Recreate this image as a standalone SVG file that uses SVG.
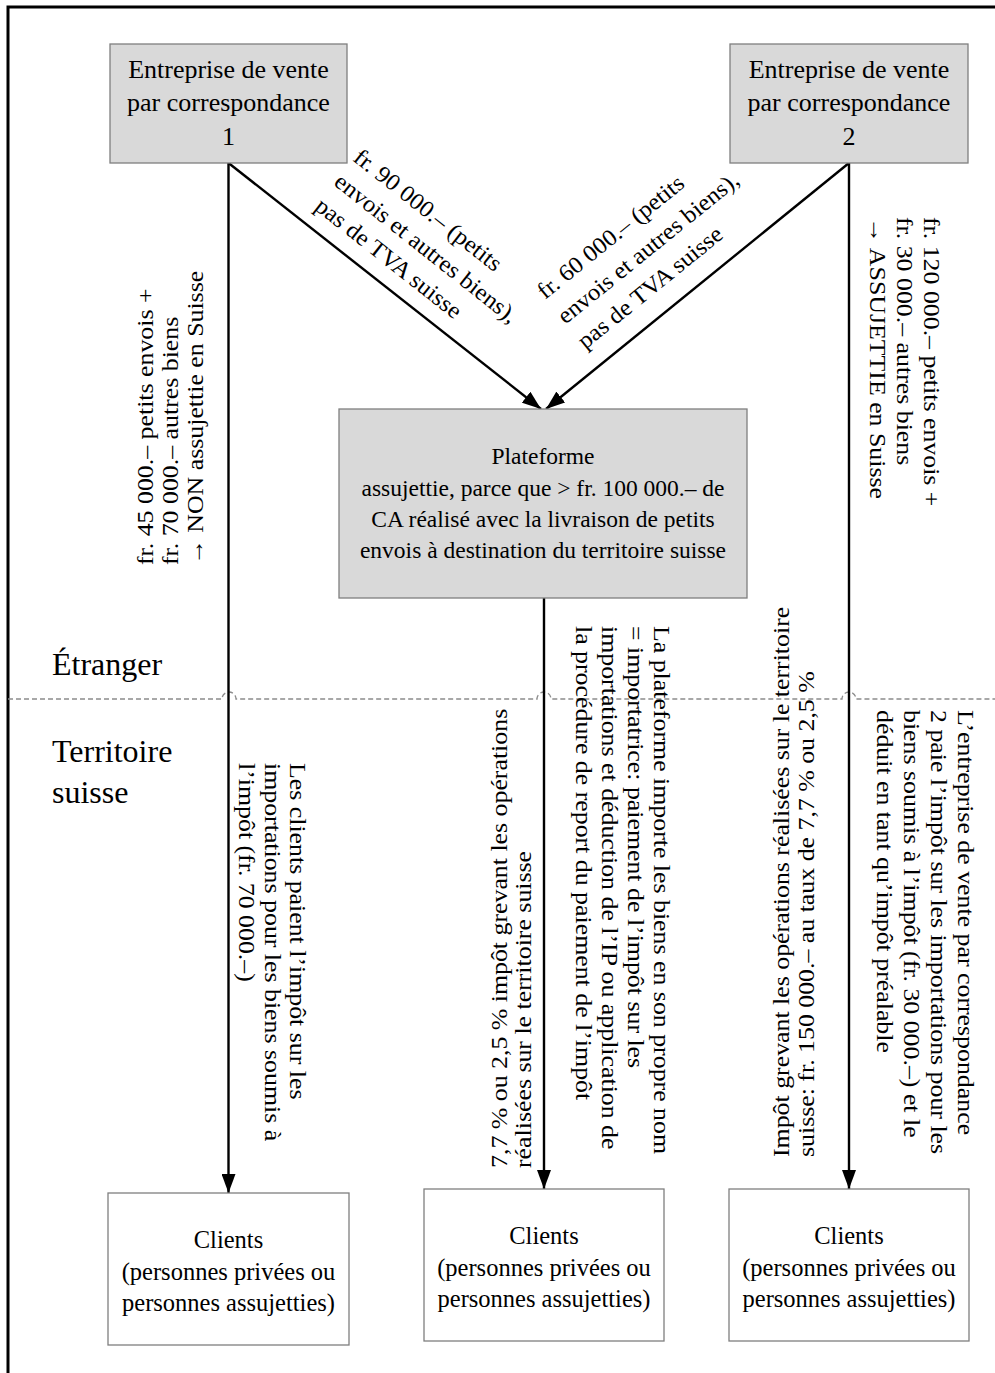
<svg xmlns="http://www.w3.org/2000/svg" width="995" height="1373" viewBox="0 0 995 1373">
<defs>
<style>
.t{font-family:"Liberation Serif","Times New Roman",serif;fill:#000}
.box{fill:#d9d9d9;stroke:#7f7f7f;stroke-width:1.3}
.wbox{fill:#fff;stroke:#7f7f7f;stroke-width:1.3}
.ln{stroke:#000;stroke-width:2.4;fill:none}
.v{font-size:23.5px}
.d{font-size:23.5px}
</style>
<marker id="ah" markerUnits="userSpaceOnUse" markerWidth="19" markerHeight="14" refX="19" refY="7" orient="auto">
<path d="M0,0 L19,7 L0,14 z" fill="#000"/>
</marker>
</defs>
<rect width="995" height="1373" fill="#fff"/>
<path d="M8,1373 V7 H995" fill="none" stroke="#000" stroke-width="3"/>

<g id="zones">
<path d="M8,699 H222 A7,7 0 0 1 236,699 H537 A7,7 0 0 1 551,699 H842 A7,7 0 0 1 856,699 H995" fill="none" stroke="#8c8c8c" stroke-width="1.3" stroke-dasharray="5,3"/>
<text class="t" x="52" y="675" font-size="32">Étranger</text>
<text class="t" x="52" y="762" font-size="32">Territoire</text>
<text class="t" x="52" y="803" font-size="32">suisse</text>
</g>

<g id="connectors">
<line class="ln" x1="228.5" y1="163" x2="228.5" y2="1193" marker-end="url(#ah)"/>
<line class="ln" x1="228.5" y1="163" x2="541" y2="409" marker-end="url(#ah)"/>
<line class="ln" x1="849" y1="163" x2="546" y2="409" marker-end="url(#ah)"/>
<line class="ln" x1="849" y1="163" x2="849" y2="1189" marker-end="url(#ah)"/>
<line class="ln" x1="544" y1="598" x2="544" y2="1189" marker-end="url(#ah)"/>
</g>

<g id="node-vpc1">
<rect class="box" x="110" y="44" width="237" height="119"/>
<text class="t" font-size="26" text-anchor="middle"><tspan x="228.5" y="78">Entreprise de vente</tspan><tspan x="228.5" y="111">par correspondance</tspan><tspan x="228.5" y="145">1</tspan></text>
</g>

<g id="node-vpc2">
<rect class="box" x="730" y="44" width="238" height="119"/>
<text class="t" font-size="26" text-anchor="middle"><tspan x="849" y="78">Entreprise de vente</tspan><tspan x="849" y="111">par correspondance</tspan><tspan x="849" y="145">2</tspan></text>
</g>

<g id="node-plateforme">
<rect class="box" x="339" y="409" width="408" height="189"/>
<text class="t" font-size="23.5" text-anchor="middle"><tspan x="543" y="464">Plateforme</tspan><tspan x="543" y="496">assujettie, parce que &gt; fr. 100 000.– de</tspan><tspan x="543" y="527">CA réalisé avec la livraison de petits</tspan><tspan x="543" y="558">envois à destination du territoire suisse</tspan></text>
</g>

<g id="node-clients1">
<rect class="wbox" x="108" y="1193" width="241" height="152"/>
<text class="t" font-size="24.5" text-anchor="middle"><tspan x="228.5" y="1248">Clients</tspan><tspan x="228.5" y="1280">(personnes privées ou</tspan><tspan x="228.5" y="1311">personnes assujetties)</tspan></text>
</g>

<g id="node-clients2">
<rect class="wbox" x="424" y="1189" width="240" height="152"/>
<text class="t" font-size="24.5" text-anchor="middle"><tspan x="544" y="1244">Clients</tspan><tspan x="544" y="1276">(personnes privées ou</tspan><tspan x="544" y="1307">personnes assujetties)</tspan></text>
</g>

<g id="node-clients3">
<rect class="wbox" x="729" y="1189" width="240" height="152"/>
<text class="t" font-size="24.5" text-anchor="middle"><tspan x="849" y="1244">Clients</tspan><tspan x="849" y="1276">(personnes privées ou</tspan><tspan x="849" y="1307">personnes assujetties)</tspan></text>
</g>

<g id="labels">
<g transform="translate(352,160) rotate(38.3) scale(1.05,1)">
<text class="t d"><tspan x="0" y="0">fr. 90 000.– (petits</tspan><tspan x="0" y="31">envois et autres biens),</tspan><tspan x="0" y="62">pas de TVA suisse</tspan></text>
</g>
<g transform="translate(545,300) rotate(-39) scale(1.05,1)">
<text class="t d"><tspan x="0" y="0">fr. 60 000.– (petits</tspan><tspan x="0" y="32">envois et autres biens),</tspan><tspan x="0" y="64">pas de TVA suisse</tspan></text>
</g>
<g transform="translate(153,565) rotate(-90) scale(1.1,1)">
<text class="t v"><tspan x="0" y="0">fr. 45 000.– petits envois +</tspan><tspan x="0" y="25.5">fr. 70 000.– autres biens</tspan><tspan x="0" y="50">→ NON assujettie en Suisse</tspan></text>
</g>
<g transform="translate(924,217) rotate(90) scale(1.1,1)">
<text class="t v"><tspan x="0" y="0">fr. 120 000.– petits envois +</tspan><tspan x="0" y="27">fr. 30 000.– autres biens</tspan><tspan x="0" y="54">→ ASSUJETTIE en Suisse</tspan></text>
</g>
<g transform="translate(290,763) rotate(90) scale(1.1,1)">
<text class="t v"><tspan x="0" y="0">Les clients paient l’impôt sur les</tspan><tspan x="0" y="25.5">importations pour les biens soumis à</tspan><tspan x="0" y="51">l’impôt (fr. 70 000.–)</tspan></text>
</g>
<g transform="translate(507,1168) rotate(-90) scale(1.1,1)">
<text class="t v"><tspan x="0" y="0">7,7 % ou 2,5 % impôt grevant les opérations</tspan><tspan x="0" y="24.5">réalisées sur le territoire suisse</tspan></text>
</g>
<g transform="translate(654,626) rotate(90) scale(1.1,1)">
<text class="t v"><tspan x="0" y="0">La plateforme importe les biens en son propre nom</tspan><tspan x="0" y="26">= importatrice: paiement de l’impôt sur les</tspan><tspan x="0" y="52">importations et déduction de l’IP ou application de</tspan><tspan x="0" y="78">la procédure de report du paiement de l’impôt</tspan></text>
</g>
<g transform="translate(789,1157) rotate(-90) scale(1.1,1)">
<text class="t v"><tspan x="0" y="0">Impôt grevant les opérations réalisées sur le territoire</tspan><tspan x="0" y="25">suisse: fr. 150 000.– au taux de 7,7 % ou 2,5 %</tspan></text>
</g>
<g transform="translate(958,710) rotate(90) scale(1.1,1)">
<text class="t v"><tspan x="0" y="0">L’entreprise de vente par correspondance</tspan><tspan x="0" y="27">2 paie l’impôt sur les importations pour les</tspan><tspan x="0" y="54">biens soumis à l’impôt (fr. 30 000.–) et le</tspan><tspan x="0" y="81">déduit en tant qu’impôt préalable</tspan></text>
</g>
</g>
</svg>
